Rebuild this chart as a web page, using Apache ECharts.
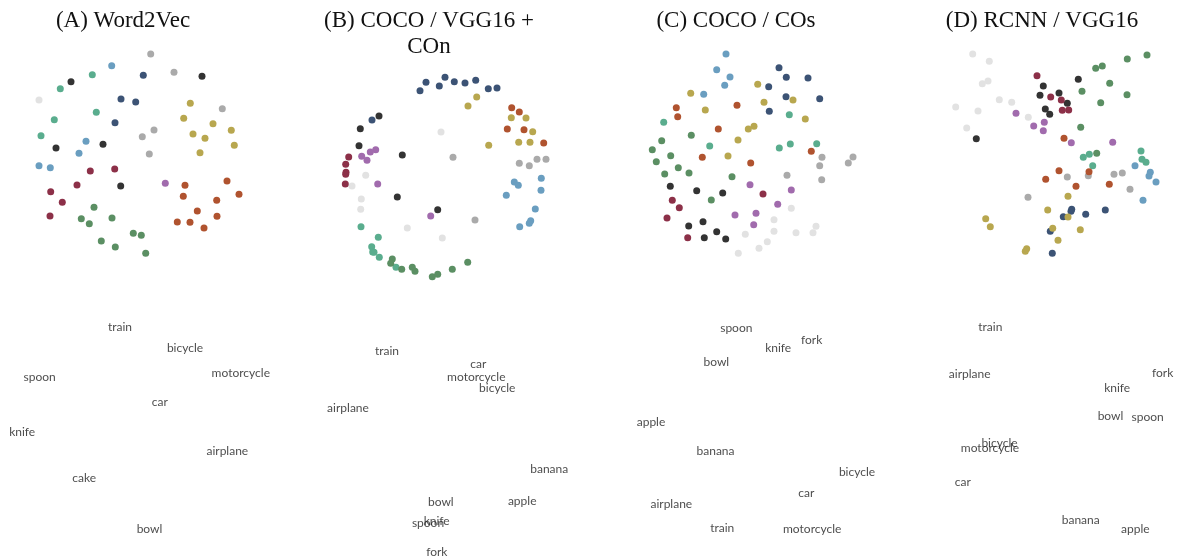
<!DOCTYPE html>
<html>
<head>
<meta charset="utf-8">
<title>Embedding projections</title>
<script src="https://cdn.jsdelivr.net/npm/echarts@6/dist/echarts.min.js"></script>
<style>
  html, body { margin: 0; padding: 0; background: #ffffff; }
  #chart { width: 1180px; height: 559px; }
</style>
</head>
<body>
<div id="chart"></div>
<script>
// Panel titles
const panelTitles = ['(A) Word2Vec', '(B) COCO / VGG16 +\nCOn', '(C) COCO / COs', '(D) RCNN / VGG16'];

// Point clusters: each entry is [x, y, group] in panel coordinates
// group: 0 light grey, 1 grey, 2 black, 3 navy, 4 steel blue, 5 teal,
//        6 green, 7 maroon, 8 rust, 9 olive, 10 purple
const word2vecPoints = [
  [150.7,54,1],[111.7,65.7,4],[92.3,74.7,5],[71,81.7,2],[143.3,75.3,3],[174,72.3,1],[202,76.3,2],[60.3,88.7,5],
  [39,100,0],[121,99,3],[135.7,102,3],[190.3,103.3,9],[222.3,108.7,1],[96.3,112.3,5],[54.3,119.7,5],[115,122.7,3],
  [183.7,118.3,9],[213,123.7,9],[41,135.7,5],[154,130,1],[142.3,136.7,1],[193,134,9],[205,138.3,9],[231.3,130.3,9],
  [234.3,145.3,9],[56,148,2],[86,141.3,4],[103,144.3,2],[79,153.3,4],[149.3,154,1],[200,152.7,9],[39,165.7,4],
  [50.3,167.7,4],[90.3,171,7],[114.7,169,7],[77,185,7],[120.7,186,2],[165.3,183.3,10],[185,185.3,8],[227,181,8],
  [239,194.3,8],[50.7,191.7,7],[183.3,196.3,8],[62.3,202.3,7],[216.7,200.3,8],[94,207.3,6],[197.3,211,8],[50,216,7],
  [81.3,218.7,6],[112,218,6],[89.3,223.7,6],[217,216.3,8],[177.3,222,8],[190,222.3,8],[204,228,8],[133.3,233.3,6],
  [141.3,235.3,6],[101.3,241,6],[115.3,247,6],[145.7,253.3,6]
];
const vggConPoints = [
  [145,77.3,3],[126,82.3,3],[120,90.7,3],[139.3,86,3],[154.3,81.7,3],[165,83,3],[175.7,80.3,3],[188.3,88.7,3],[197,88,3],
  [176.7,97,9],[168,106,9],[211.7,107.7,8],[219.3,112,8],[211.3,117.7,9],[226,118,9],[207.3,129,8],[224,129.7,8],
  [232.7,131.7,9],[218.7,142.3,9],[230,142.3,9],[243.7,143,8],[188.7,145.3,9],[79,116,2],[72,120,3],[60.3,128.7,2],
  [141,132,0],[59,145.7,2],[75.7,149.7,10],[70.3,152,10],[102.3,155,2],[153,157.3,1],[48.7,157,7],[61.7,156.3,10],
  [67,160.3,10],[219.3,163.3,1],[229.3,165.7,1],[237,159.3,1],[246,159.3,1],[45.7,164.3,7],[46,172.3,7],[45.7,174.3,7],
  [65.7,175.3,0],[45.3,184,7],[52,186,0],[77.7,184,10],[214.3,182,4],[218.3,185.3,4],[241.3,178.3,4],[241,190.3,4],
  [206.3,195.3,4],[97.3,197,2],[61.3,199,0],[60.7,209.3,0],[137.7,209.7,2],[130.7,216,10],[235.3,209,4],[175,220,1],
  [230.7,220.7,4],[229.3,223.3,4],[219.7,226.7,4],[61,226.7,5],[107.3,228,0],[78.3,237.3,5],[142.3,238,0],
  [71.7,246.7,5],[72.7,252,5],[74,252.3,5],[79.3,257.3,5],[92.3,259,6],[90.7,263.3,6],[96,267.3,5],[101.7,269.3,6],
  [112.3,267.3,6],[115,271.3,6],[132.3,276.7,6],[137.7,274.3,6],[152.3,269.3,6],[167.7,262.3,6]
];
const cosPoints = [
  [136,54,4],[126.7,69.7,4],[140,77,4],[134.7,85.3,4],[113.7,94.3,4],[100.7,93.3,9],[189,67.7,3],[196.3,77.3,3],
  [218,78,3],[167.7,84.3,9],[178.7,86.7,3],[196,96.7,3],[203,100,9],[229.7,98.7,3],[174,102.3,9],[86.3,107.7,8],
  [147,105.3,8],[115.3,110,9],[179.3,111.3,3],[87.7,116.7,8],[199.3,114.7,5],[215.3,119,9],[73.7,122.3,5],
  [128.3,129,8],[158.3,129,9],[164,126.3,9],[101.3,135.3,6],[71.7,140.7,6],[148,140,9],[119.7,146,5],[189.3,148,5],
  [200.3,144,5],[226.7,143.7,5],[62.3,149.7,6],[221.3,151.3,8],[80.7,155.7,6],[138,156,9],[112.3,157.3,8],
  [232,157.3,1],[263,157,1],[258.3,163,1],[229.7,165.7,1],[66.3,161.7,6],[160.7,163,8],[88.3,167.7,6],[99,173,6],
  [74.7,174,6],[142,176.7,6],[197,175.3,1],[231.7,179.7,1],[80.3,186.3,2],[160,184.7,10],[201.3,190,10],
  [106.7,190.7,2],[132.7,193,2],[173,194,7],[82.3,200.3,7],[121.3,200,6],[187.7,204.3,10],[89.3,207.7,7],
  [201.3,208.3,0],[145,215,10],[166,213.3,10],[77,218,7],[184,219.7,0],[113,221.7,2],[163.7,224.7,10],[98.7,226,2],
  [226,226.3,0],[223,232.7,0],[184,231.3,0],[206,232.7,0],[126.7,231.7,2],[155.3,234.3,0],[97.7,237.7,7],
  [114.3,237.7,2],[135.7,239,2],[177.3,241.7,0],[169,248.3,0],[148.3,253.3,0]
];
const rcnnPoints = [
  [92.7,54,0],[109.3,61.3,0],[267,55,6],[247.3,59,6],[215.7,68.3,6],[222.3,66,6],[157,75.7,7],[198.3,79.3,2],
  [108,81,0],[102.3,83.7,0],[229.7,83.3,6],[163.3,86,2],[202,91.3,6],[179,93,2],[160,95.3,2],[170.7,97,7],
  [247,94.7,6],[181.3,100,7],[119.3,99.7,0],[131.7,102.3,0],[187.3,103.3,2],[220.7,102.7,6],[75.7,107,0],[98,111,0],
  [165.3,109,2],[182.3,110.3,7],[188.7,110,7],[169.7,114.3,2],[136,113.3,10],[148.3,117.3,0],[164.3,122.3,10],
  [153.7,126,10],[163.3,130.7,10],[200.7,127.3,6],[86.7,128,0],[96.3,138.7,2],[184,138.3,8],[191.3,142.7,10],
  [232.7,142.3,10],[261,151,5],[209.3,154.3,5],[203.3,157.3,5],[216.7,153.3,6],[262,159.3,5],[266,162.3,5],
  [212.7,165.7,5],[255,165.7,4],[270.3,172.3,4],[269,176,4],[276,182,4],[179,170.7,8],[209,171.7,8],[208.3,175.7,1],
  [187.3,177,1],[234,174.3,1],[242.3,173,1],[165.7,179.3,8],[196,186.3,8],[229.3,184.3,8],[250,189.3,1],
  [188,196.3,9],[148,197.3,1],[263,200.3,4],[167.7,210,9],[191.7,209.3,3],[191,211.3,3],[225.3,210,3],
  [205.7,214.3,3],[105.7,218.7,9],[188,217,9],[183.3,216.7,3],[110.3,226.7,9],[172.7,228.3,9],[170.3,231.3,3],
  [200.3,229.7,9],[178,240.3,9],[146.7,248.7,9],[145.3,251.3,9],[172.3,253.3,3]
];

// Class-name maps: [x, y, word] in panel coordinates
const word2vecWords = [
  [120,37.3,'train'],[185,58.3,'bicycle'],[39.7,87.3,'spoon'],[240.8,82.7,'motorcycle'],[159.8,112,'car'],
  [22.2,142,'knife'],[227.3,160.7,'airplane'],[84.2,188.3,'cake'],[149.5,238.7,'bowl']
];
const vggConWords = [
  [87,60.7,'train'],[178.3,73.7,'car'],[176.3,86.7,'motorcycle'],[197.2,97.7,'bicycle'],[48,118,'airplane'],
  [249.2,179,'banana'],[140.8,212,'bowl'],[222.2,211.3,'apple'],[128,232.7,'spoon'],[136.7,230.7,'knife'],
  [136.8,261.7,'fork']
];
const cosWords = [
  [146.3,38.3,'spoon'],[221.7,50.3,'fork'],[188.2,58.3,'knife'],[126.3,72,'bowl'],[61,132,'apple'],
  [125.5,160.7,'banana'],[267,182.3,'bicycle'],[216.3,203.3,'car'],[81.3,214,'airplane'],[132.2,237.7,'train'],
  [222.2,238.7,'motorcycle']
];
const rcnnWords = [
  [110.3,37.3,'train'],[89.7,84,'airplane'],[282.7,83.3,'fork'],[237.2,98.3,'knife'],[230.5,126.3,'bowl'],
  [267.7,127.3,'spoon'],[119.5,152.7,'bicycle'],[110,157.7,'motorcycle'],[82.8,192,'car'],[200.7,230,'banana'],
  [255.3,239.3,'apple']
];

// Styling
const groupColors = ['#e2e2e2', '#aaaaaa', '#333333', '#3c5375', '#6a9ec0', '#5aad8e',
                     '#5b8f63', '#8c3048', '#b0532f', '#b8a74f', '#a16bad'];
const panelLefts = [0, 300, 590, 880];
const panelWidth = 300;
const topHeight = 290;
const bottomTop = 290;
const bottomHeight = 269;
const titleCenters = [123, 429, 736, 1042];

const pointSets = [word2vecPoints, vggConPoints, cosPoints, rcnnPoints];
const wordSets = [word2vecWords, vggConWords, cosWords, rcnnWords];

const grids = [], xAxes = [], yAxes = [], series = [], graphics = [];

pointSets.forEach((pts, p) => {
  // scatter grid (top)
  const gi = grids.length;
  grids.push({ left: panelLefts[p], top: 0, width: panelWidth, height: topHeight });
  xAxes.push({ gridIndex: gi, type: 'value', min: 0, max: panelWidth, show: false });
  yAxes.push({ gridIndex: gi, type: 'value', min: 0, max: topHeight, inverse: true, show: false });
  groupColors.forEach((col, g) => {
    const data = pts.filter(d => d[2] === g).map(d => [d[0], d[1]]);
    if (!data.length) return;
    series.push({
      type: 'scatter', xAxisIndex: gi, yAxisIndex: gi, data,
      symbolSize: 7, clip: false, silent: true,
      itemStyle: { color: col, opacity: 1 }
    });
  });

  // word grid (bottom)
  const wi = grids.length;
  grids.push({ left: panelLefts[p], top: bottomTop, width: panelWidth, height: bottomHeight });
  xAxes.push({ gridIndex: wi, type: 'value', min: 0, max: panelWidth, show: false });
  yAxes.push({ gridIndex: wi, type: 'value', min: 0, max: bottomHeight, inverse: true, show: false });
  series.push({
    type: 'scatter', xAxisIndex: wi, yAxisIndex: wi, symbolSize: 0, clip: false, silent: true,
    data: wordSets[p].map(d => ({ value: [d[0], d[1]], name: d[2] })),
    label: {
      show: true, position: 'inside', formatter: '{b}',
      fontFamily: 'Lato', fontSize: 12, color: '#1a1a1a'
    }
  });

  graphics.push({
    type: 'text', x: titleCenters[p], y: 8,
    style: {
      text: panelTitles[p], font: '23px "Liberation Serif", serif',
      fill: '#111111', textAlign: 'center', textVerticalAlign: 'top', lineHeight: 26
    }
  });
});

const chart = echarts.init(document.getElementById('chart'), null, { renderer: 'canvas' });
chart.setOption({
  animation: false,
  backgroundColor: '#ffffff',
  grid: grids,
  xAxis: xAxes,
  yAxis: yAxes,
  series,
  graphic: graphics
});
</script>
</body>
</html>
